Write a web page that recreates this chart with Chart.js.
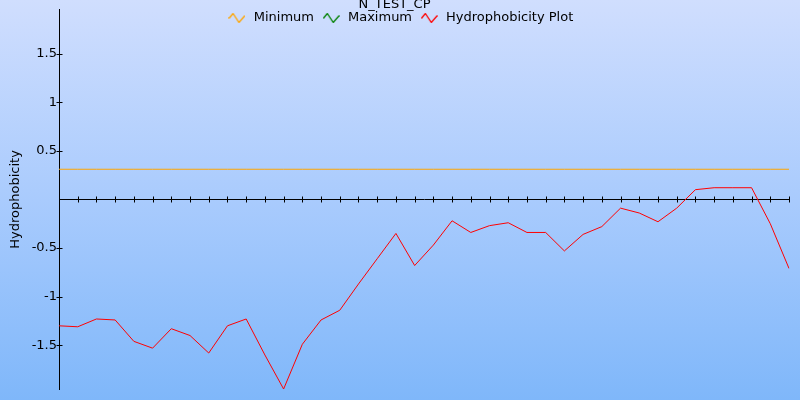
<!DOCTYPE html>
<html>
<head>
<meta charset="utf-8">
<script src="https://cdn.jsdelivr.net/npm/chart.js@4"></script>
<style>
    html, body { margin: 0; padding: 0; background: #a8cbfd; }
    #chart { display: block; }
</style>
</head>
<body>
<canvas id="chart" width="800" height="400"></canvas>
<script>
// Residue positions along the sequence (x categories)
const positions = [
    '1', '2', '3', '4', '5', '6', '7', '8', '9', '10',
    '11', '12', '13', '14', '15', '16', '17', '18', '19', '20',
    '21', '22', '23', '24', '25', '26', '27', '28', '29', '30',
    '31', '32', '33', '34', '35', '36', '37', '38', '39', '40'
];

// Hydrophobicity values
const hydrophobicity = [
    -1.30, -1.31, -1.23, -1.24, -1.46, -1.53, -1.33, -1.40, -1.58, -1.30,
    -1.23, -1.60, -1.95, -1.49, -1.24, -1.14, -0.87, -0.61, -0.35, -0.68,
    -0.47, -0.22, -0.34, -0.27, -0.24, -0.34, -0.34, -0.53, -0.36, -0.28,
    -0.09, -0.14, -0.23, -0.09, 0.10, 0.12, 0.12, 0.12, -0.25, -0.71
];

// Minimum threshold line
const minimum = [
    0.31, 0.31, 0.31, 0.31, 0.31, 0.31, 0.31, 0.31, 0.31, 0.31,
    0.31, 0.31, 0.31, 0.31, 0.31, 0.31, 0.31, 0.31, 0.31, 0.31,
    0.31, 0.31, 0.31, 0.31, 0.31, 0.31, 0.31, 0.31, 0.31, 0.31,
    0.31, 0.31, 0.31, 0.31, 0.31, 0.31, 0.31, 0.31, 0.31, 0.31
];

// Maximum threshold (not visible in the plotted range)
const maximum = [];

const yTickValues = [-1.5, -1, -0.5, 0.5, 1, 1.5];
const yMin = -1.95;
const yMax = 1.95;

// little zigzag icons for the legend
function zigzag(color) {
    const c = document.createElement('canvas');
    c.width = 17;
    c.height = 10;
    const g = c.getContext('2d');
    g.strokeStyle = color;
    g.lineWidth = 1.3;
    g.beginPath();
    g.moveTo(0.5, 5.5);
    g.lineTo(4.5, 0.5);
    g.lineTo(10.5, 9.5);
    g.lineTo(16.5, 2.5);
    g.stroke();
    return c;
}

Chart.defaults.font.family = '"DejaVu Sans", Verdana, sans-serif';
Chart.defaults.font.size = 13;
Chart.defaults.color = '#000';

// gradient background + legend placed over the plot
const backdrop = {
    id: 'backdrop',
    beforeDraw(chart) {
        const ctx = chart.ctx;
        const grad = ctx.createLinearGradient(0, 0, 0, chart.height);
        grad.addColorStop(0, '#d0defe');
        grad.addColorStop(0.5, '#a9cbfd');
        grad.addColorStop(1, '#7fb7fa');
        ctx.save();
        ctx.fillStyle = grad;
        ctx.fillRect(0, 0, chart.width, chart.height);
        ctx.restore();

        // legend does not take space, it sits on top of the plot
        const lg = chart.legend;
        lg.left = 0;
        lg.right = 800;
        lg.width = 800;
        lg.top = 4.5;
        lg.bottom = 34;
        lg.height = 29.5;
    }
};

// tick marks that cross the axes
const crossTicks = {
    id: 'crossTicks',
    afterDraw(chart) {
        const ctx = chart.ctx;
        const xs = chart.scales.x;
        const ys = chart.scales.y;
        const y0 = Math.round(ys.getPixelForValue(0)) + 0.5;
        const x0 = Math.round(xs.left) + 0.5;
        ctx.save();
        ctx.strokeStyle = '#000';
        ctx.lineWidth = 1;
        ctx.beginPath();
        positions.forEach((p, i) => {
            const px = Math.round(xs.getPixelForValue(i)) + 0.5;
            ctx.moveTo(px, y0 - 3);
            ctx.lineTo(px, y0 + 3);
        });
        yTickValues.forEach((v) => {
            const py = Math.round(ys.getPixelForValue(v)) + 0.5;
            ctx.moveTo(x0 - 3, py);
            ctx.lineTo(x0 + 3, py);
        });
        ctx.stroke();
        ctx.restore();
    }
};

new Chart(document.getElementById('chart'), {
    type: 'line',
    data: {
        labels: positions,
        datasets: [
            {
                label: 'Minimum',
                data: minimum,
                borderColor: '#ffa500',
                backgroundColor: '#ffa500',
                borderWidth: 1,
                pointRadius: 0,
                pointStyle: zigzag('#ffa500')
            },
            {
                label: 'Maximum',
                data: maximum,
                borderColor: '#008000',
                backgroundColor: '#008000',
                borderWidth: 1,
                pointRadius: 0,
                pointStyle: zigzag('#008000')
            },
            {
                label: 'Hydrophobicity Plot',
                data: hydrophobicity,
                borderColor: '#ff0000',
                backgroundColor: '#ff0000',
                borderWidth: 1,
                pointRadius: 0,
                tension: 0,
                pointStyle: zigzag('#ff0000')
            }
        ]
    },
    options: {
        responsive: false,
        animation: false,
        layout: {
            padding: { left: 0, right: 11, top: 0, bottom: 11 }
        },
        plugins: {
            title: {
                display: true,
                text: 'N_TEST_CP',
                color: '#000',
                font: { size: 13, weight: 'normal', lineHeight: 0.74 },
                padding: 0
            },
            legend: {
                position: 'top',
                maxHeight: 0.01,
                labels: {
                    usePointStyle: true,
                    pointStyleWidth: 20.5,
                    padding: 7,
                    color: '#000',
                    font: { size: 13 }
                }
            },
            tooltip: { enabled: false }
        },
        scales: {
            x: {
                type: 'category',
                position: { y: 0 },
                offset: false,
                grid: { display: false },
                border: { display: true, color: '#000', width: 1 },
                ticks: { display: false, autoSkip: false }
            },
            y: {
                min: yMin,
                max: yMax,
                afterFit(scale) {
                    scale.width = 59;
                },
                grid: { display: false, drawTicks: false },
                border: { display: true, color: '#000', width: 1 },
                title: {
                    display: true,
                    text: 'Hydrophobicity',
                    color: '#000',
                    font: { size: 13 },
                    padding: { top: 8, bottom: 0 }
                },
                ticks: {
                    stepSize: 0.5,
                    padding: 2,
                    color: '#000',
                    callback: (v) => (yTickValues.includes(v) ? String(v) : null)
                }
            }
        }
    },
    plugins: [backdrop, crossTicks]
});
</script>
</body>
</html>
